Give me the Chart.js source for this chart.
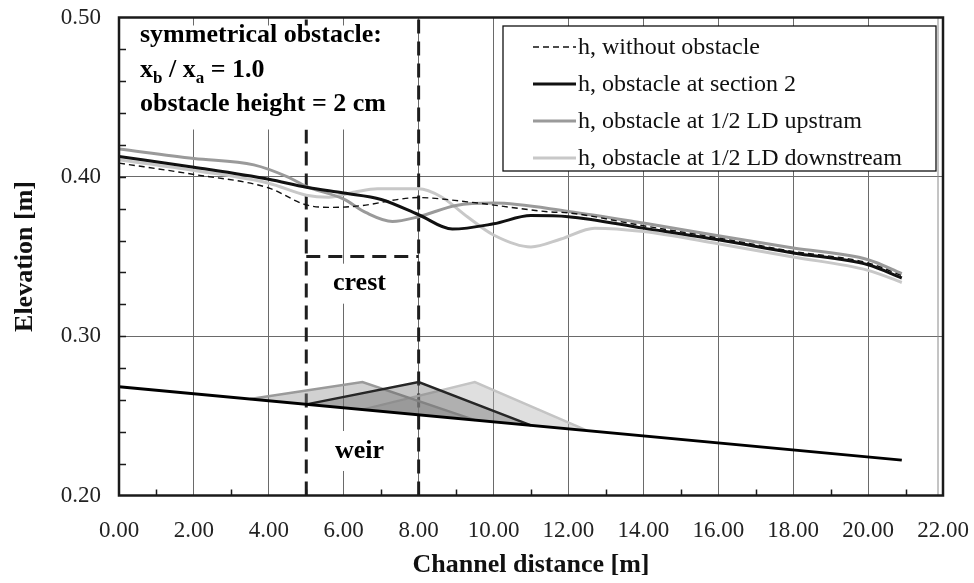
<!DOCTYPE html>
<html>
<head>
<meta charset="utf-8">
<script src="https://cdn.jsdelivr.net/npm/chart.js@4.4.1/dist/chart.umd.min.js"></script>
<style>
  html, body { margin: 0; padding: 0; background: #fff; }
  #wrap { width: 974px; height: 583px; }
</style>
</head>
<body>
<div id="wrap"><canvas id="profile" width="974" height="583"></canvas></div>
<script>
// water surface profiles: station [m] / elevation [m]
const xNoObstacle = [0, 2, 4, 5, 5.7, 6.5, 7.5, 8, 9.3, 11.5, 12, 14, 16, 18, 20, 20.9];
const hNoObstacle = [0.4086, 0.4015, 0.393, 0.3824, 0.3808, 0.382, 0.386, 0.387, 0.3843, 0.378, 0.3774, 0.3693, 0.3616, 0.3532, 0.346, 0.338];

const xSection2 = [0, 2, 4, 5, 6, 7, 8, 8.9, 10, 11, 12, 14, 16, 18, 20, 20.9];
const hSection2 = [0.4128, 0.406, 0.3985, 0.3935, 0.3898, 0.3858, 0.3762, 0.3672, 0.3705, 0.3757, 0.375, 0.3678, 0.3605, 0.3522, 0.3448, 0.3365];

const xUpstream = [0, 2, 3.6, 4.5, 5, 6, 6.6, 7.3, 8, 9, 10, 12, 14, 16, 18, 20, 20.9];
const hUpstream = [0.4175, 0.4115, 0.4075, 0.4, 0.394, 0.386, 0.3775, 0.372, 0.375, 0.382, 0.3835, 0.3783, 0.371, 0.363, 0.3553, 0.348, 0.3392];

const xDownstream = [0, 2, 4, 5, 5.6, 6.3, 6.9, 8, 8.6, 9.3, 10, 11, 11.8, 12.7, 14, 16, 18, 20, 20.9];
const hDownstream = [0.4107, 0.404, 0.396, 0.3885, 0.3872, 0.3905, 0.3925, 0.3925, 0.3875, 0.375, 0.3635, 0.356, 0.361, 0.3678, 0.3657, 0.358, 0.3497, 0.3413, 0.3337];

// weir crest line and the three triangular obstacles (start, top, end)
const xWeir = [0, 20.9];
const zWeir = [0.2682, 0.2222];
const xObsSection2 = [5, 8, 11];
const zObsSection2 = [0.2572, 0.2712, 0.244];
const xObsUpstream = [3.5, 6.5, 9.5];
const zObsUpstream = [0.2605, 0.2712, 0.2473];
const xObsDownstream = [6.5, 9.5, 12.5];
const zObsDownstream = [0.2539, 0.2712, 0.2407];

// crest limits (dashed construction lines)
const xCrestLimits = [5, 8];
const zCrestLevel = [0.35, 0.35];
const zFrame = [0.2, 0.5];

const labels = {
  noObstacle: 'h, without obstacle',
  section2: 'h, obstacle at section 2',
  upstream: 'h, obstacle at 1/2 LD upstram',
  downstream: 'h, obstacle at 1/2 LD downstream'
};

const SERIF = "'Liberation Serif', 'Times New Roman', serif";

function toPoints(xs, ys) {
  return xs.map((x, i) => ({x: x, y: ys[i]}));
}

function curve(label, xs, ys, color, width, dash) {
  return {
    label, data: toPoints(xs, ys), borderColor: color, borderWidth: width,
    borderDash: dash || [], pointRadius: 0, fill: false,
    cubicInterpolationMode: 'monotone', inLegend: true
  };
}

function obstacle(xs, zs, edge, fillColor) {
  return {
    label: '', data: toPoints(xs, zs), borderColor: edge, borderWidth: 2.5,
    backgroundColor: fillColor, pointRadius: 0, fill: 'shape', tension: 0
  };
}

function guide(xs, ys) {
  return {
    label: '', data: toPoints(xs, ys), borderColor: '#1e1e1e', borderWidth: 3,
    borderDash: [14, 8], pointRadius: 0, fill: false, tension: 0
  };
}

// scales keep their own label overhang out of the layout
function noPad(s) {
  s.paddingTop = 0; s.paddingBottom = 0; s.paddingLeft = 0; s.paddingRight = 0;
}

const overlay = {
  id: 'overlay',
  afterDatasetsDraw(chart) {
    const {ctx, chartArea: a, scales: {x, y}} = chart;
    ctx.save();

    // white boxes behind the annotations
    ctx.fillStyle = '#fff';
    ctx.fillRect(a.left + 4, a.top + 8, x.getPixelForValue(8) - a.left - 6, 104);
    const midX = x.getPixelForValue(6.5);
    ctx.fillRect(midX - 38, y.getPixelForValue(0.3455), 76, 40);
    ctx.fillRect(midX - 38, y.getPixelForValue(0.2405), 76, 40);

    ctx.fillStyle = '#000';
    ctx.textBaseline = 'alphabetic';
    ctx.textAlign = 'left';
    const big = 'bold 26px ' + SERIF;
    const small = 'bold 17px ' + SERIF;
    const tx = a.left + 21;
    ctx.font = big;
    ctx.fillText('symmetrical obstacle:', tx, 42);
    // x_b / x_a = 1.0
    let cx = tx;
    const parts = [['x', big, 0], ['b', small, 6], [' / x', big, 0], ['a', small, 6], [' = 1.0', big, 0]];
    parts.forEach(([t, f, dy]) => {
      ctx.font = f;
      ctx.fillText(t, cx, 77 + dy);
      cx += ctx.measureText(t).width;
    });
    ctx.font = big;
    ctx.fillText('obstacle height = 2 cm', tx, 111);

    ctx.textAlign = 'center';
    ctx.font = 'bold 26px ' + SERIF;
    ctx.fillText('crest', midX - 3, 290);
    ctx.fillText('weir', midX - 3, 458);

    // legend
    const lx0 = 503, ly0 = 26, lx1 = 936, ly1 = 171;
    ctx.fillStyle = '#fff';
    ctx.fillRect(lx0, ly0, lx1 - lx0, ly1 - ly0);
    ctx.strokeStyle = '#111';
    ctx.lineWidth = 1.3;
    ctx.strokeRect(lx0, ly0, lx1 - lx0, ly1 - ly0);
    const rows = chart.data.datasets.filter(d => d.inLegend);
    ctx.font = '24px ' + SERIF;
    ctx.textAlign = 'left';
    ctx.textBaseline = 'middle';
    rows.forEach((d, i) => {
      const ry = 47 + i * 37;
      ctx.beginPath();
      ctx.strokeStyle = d.borderColor;
      ctx.lineWidth = d.borderWidth;
      ctx.setLineDash(d.borderDash.length ? [6, 4] : []);
      ctx.moveTo(533, ry);
      ctx.lineTo(576, ry);
      ctx.stroke();
      ctx.setLineDash([]);
      ctx.fillStyle = '#111';
      ctx.fillText(d.label, 578, ry + 1);
    });
    ctx.restore();
  },
  afterDraw(chart) {
    const {ctx, chartArea: a, scales: {x, y}} = chart;
    ctx.save();
    ctx.strokeStyle = '#1a1a1a';
    ctx.lineWidth = 1.5;
    ctx.beginPath();
    for (let v = 0.22; v < 0.49; v += 0.02) {
      const py = Math.round(y.getPixelForValue(v)) + 0.5;
      ctx.moveTo(a.left, py);
      ctx.lineTo(a.left + 7, py);
    }
    for (let v = 1; v < 22; v += 2) {
      const px = Math.round(x.getPixelForValue(v)) + 0.5;
      ctx.moveTo(px, a.bottom);
      ctx.lineTo(px, a.bottom - 6);
    }
    ctx.stroke();
    // plot frame
    ctx.strokeStyle = '#8a8a8a';
    ctx.lineWidth = 1;
    ctx.beginPath();
    ctx.moveTo(a.right - 5, a.top);
    ctx.lineTo(a.right - 5, a.bottom);
    ctx.stroke();
    ctx.strokeStyle = '#1a1a1a';
    ctx.lineWidth = 2.5;
    ctx.strokeRect(a.left, a.top, a.right - a.left, a.bottom - a.top);
    ctx.restore();
  }
};

const datasets = [
  curve(labels.noObstacle, xNoObstacle, hNoObstacle, '#111', 1.4, [6, 4]),
  curve(labels.section2, xSection2, hSection2, '#111', 3),
  curve(labels.upstream, xUpstream, hUpstream, '#9a9a9a', 3),
  curve(labels.downstream, xDownstream, hDownstream, '#c8c8c8', 3),
  {label: '', data: toPoints(xWeir, zWeir), borderColor: '#000', borderWidth: 3, pointRadius: 0, fill: false, tension: 0},
  obstacle(xObsSection2, zObsSection2, '#262626', 'rgba(90,90,90,0.35)'),
  obstacle(xObsUpstream, zObsUpstream, '#9a9a9a', 'rgba(140,140,140,0.4)'),
  obstacle(xObsDownstream, zObsDownstream, '#c4c4c4', 'rgba(185,185,185,0.45)'),
  guide([xCrestLimits[0], xCrestLimits[0]], zFrame),
  guide([xCrestLimits[1], xCrestLimits[1]], zFrame),
  guide(xCrestLimits, zCrestLevel)
];

new Chart(document.getElementById('profile'), {
  type: 'line',
  data: {datasets},
  options: {
    responsive: false,
    animation: false,
    devicePixelRatio: 1,
    layout: {padding: {top: 17.5, right: 31, bottom: 0, left: 0}},
    plugins: {legend: {display: false}, tooltip: {enabled: false}},
    scales: {
      x: {
        type: 'linear', min: 0, max: 22,
        afterFit: s => { s.height = 87.5; noPad(s); },
        ticks: {stepSize: 2, padding: 22, color: '#222', font: {family: SERIF, size: 23},
          callback: v => v.toFixed(2), maxRotation: 0},
        grid: {color: '#6a6a6a', lineWidth: 1, drawTicks: false},
        border: {display: false},
        title: {display: true, text: 'Channel distance [m]', color: '#111', padding: 2,
          font: {family: SERIF, size: 26, weight: 'bold'}}
      },
      y: {
        type: 'linear', min: 0.2, max: 0.5,
        afterFit: s => { s.width = 119; noPad(s); },
        ticks: {stepSize: 0.1, padding: 18, color: '#222', font: {family: SERIF, size: 23},
          callback: v => v.toFixed(2)},
        grid: {color: '#6a6a6a', lineWidth: 1, drawTicks: false},
        border: {display: false},
        title: {display: true, text: 'Elevation [m]', color: '#111', padding: 10,
          font: {family: SERIF, size: 26, weight: 'bold'}}
      }
    }
  },
  plugins: [overlay]
});
</script>
</body>
</html>
